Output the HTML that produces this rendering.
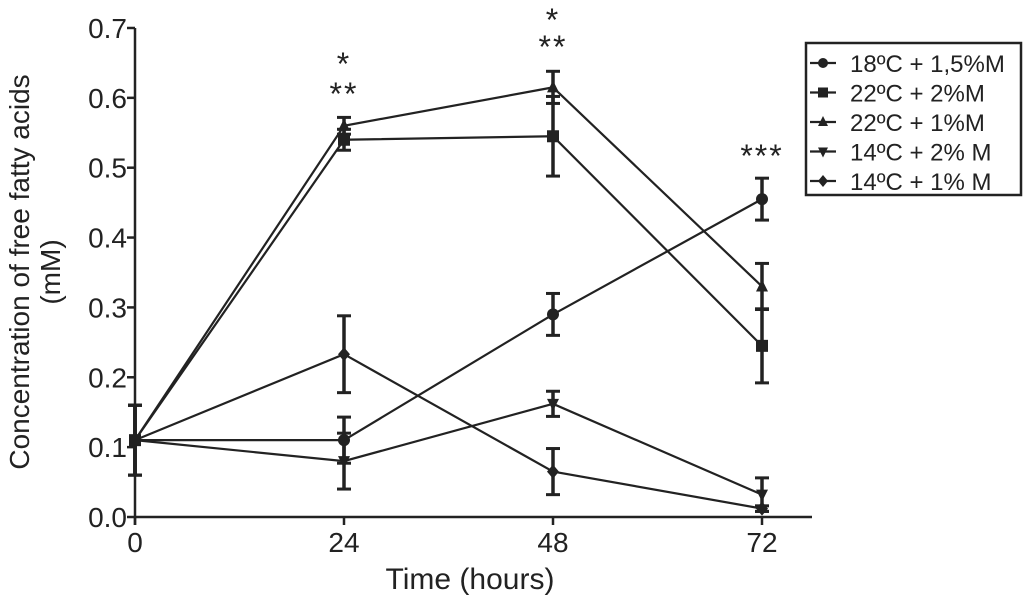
<!DOCTYPE html>
<html><head><meta charset="utf-8"><style>
body{margin:0;background:#fff;}
svg text{font-family:"Liberation Sans",Arial,sans-serif;fill:#222;}
</style></head><body>
<svg width="1024" height="599" viewBox="0 0 1024 599">
<g id="axes"></g><g id="plot"></g><g id="legend"></g>
</svg>
<script>
const times = [0, 24, 48, 72];
const seriesNames = ["18ºC + 1,5%M", "22ºC + 2%M", "22ºC + 1%M", "14ºC + 2% M", "14ºC + 1% M"];
const seriesMarkers = ["circle", "square", "triangle", "down", "diamond"];
const s18c15 = [0.11, 0.11, 0.29, 0.455];
const s22c2 = [0.11, 0.54, 0.545, 0.245];
const s22c1 = [0.11, 0.56, 0.615, 0.33];
const s14c2 = [0.11, 0.08, 0.162, 0.032];
const s14c1 = [0.11, 0.233, 0.065, 0.012];
const e18c15 = [0.05, 0.033, 0.03, 0.03];
const e22c2 = [0.05, 0.015, 0.057, 0.053];
const e22c1 = [0.05, 0.012, 0.023, 0.033];
const e14c2 = [0.05, 0.04, 0.018, 0.024];
const e14c1 = [0.05, 0.055, 0.033, 0.004];
const yTicks = ["0.0","0.1","0.2","0.3","0.4","0.5","0.6","0.7"];
const xTicks = ["0","24","48","72"];
const sigLabels = [["*","**"],["*","**"],["***"]];
const sigTimes = [24, 48, 72];

const NS="http://www.w3.org/2000/svg";
const X0=135, XW=209, Y0=517, YH=698.6;
const xs=t=>X0+t/24*XW;
const ys=v=>Y0-v*YH;
function mk(tag,attrs,parent){const e=document.createElementNS(NS,tag);for(const k in attrs)e.setAttribute(k,attrs[k]);parent.appendChild(e);return e;}
const axes=document.getElementById('axes'),plot=document.getElementById('plot'),leg=document.getElementById('legend');
let el;
el=mk('line',{x1:X0,y1:Y0,x2:812,y2:Y0,stroke:'#222','stroke-width':2.5},axes);


el=mk('line',{x1:X0,y1:Y0+8,x2:X0,y2:ys(0.7),stroke:'#222','stroke-width':2.5},axes);


yTicks.forEach((t,i)=>{const v=parseFloat(t);
 mk('line',{x1:X0-8,y1:ys(v),x2:X0,y2:ys(v),stroke:'#222','stroke-width':2.5},axes);
 el=mk('text',{x:X0-8,y:ys(v)+10,'font-size':28,'text-anchor':'end'},axes);el.textContent=t;
 
 
});
xTicks.forEach((t,i)=>{const x=xs(parseFloat(t));
 mk('line',{x1:x,y1:Y0,x2:x,y2:Y0+8,stroke:'#222','stroke-width':2.5},axes);
 el=mk('text',{x:x,y:Y0+35,'font-size':28,'text-anchor':'middle'},axes);el.textContent=t;
 
 
});
el=mk('text',{x:470,y:589,'font-size':30,'text-anchor':'middle'},axes);el.textContent='Time (hours)';


el=mk('text',{x:0,y:0,'font-size':28,'text-anchor':'middle',transform:'translate(29,272) rotate(-90)'},axes);el.textContent='Concentration of free fatty acids';


el=mk('text',{x:0,y:0,'font-size':28,'text-anchor':'middle',transform:'translate(60,272) rotate(-90)'},axes);el.textContent='(mM)';



function marker(type,x,y,p,s){
 s=s||6;
 if(type==='circle')return mk('circle',{cx:x,cy:y,r:s,fill:'#222'},p);
 if(type==='square')return mk('rect',{x:x-s,y:y-s,width:2*s,height:2*s,fill:'#222'},p);
 if(type==='triangle')return mk('polygon',{points:`${x},${y-s-1} ${x-s},${y+s-1} ${x+s},${y+s-1}`,fill:'#222'},p);
 if(type==='down')return mk('polygon',{points:`${x},${y+s+1} ${x-s},${y-s+1} ${x+s},${y-s+1}`,fill:'#222'},p);
 return mk('polygon',{points:`${x},${y-s-1} ${x+s},${y} ${x},${y+s+1} ${x-s},${y}`,fill:'#222'},p);
}
const allVals=[s18c15,s22c2,s22c1,s14c2,s14c1];
const allErr=[e18c15,e22c2,e22c1,e14c2,e14c1];
allVals.forEach((vals,si)=>{
 const g=mk('g',{},plot);
 
 
 el=mk('polyline',{points:vals.map((v,i)=>xs(times[i])+','+ys(v)).join(' '),fill:'none',stroke:'#222','stroke-width':2.2},g);
 
 
 vals.forEach((v,i)=>{const x=xs(times[i]),e=allErr[si][i];
  const hi=ys(v+e),lo=ys(Math.max(0,v-e));
  mk('line',{x1:x,y1:hi,x2:x,y2:lo,stroke:'#222','stroke-width':3.5},g);
  mk('line',{x1:x-7,y1:hi,x2:x+7,y2:hi,stroke:'#222','stroke-width':3},g);
  mk('line',{x1:x-7,y1:lo,x2:x+7,y2:lo,stroke:'#222','stroke-width':3},g);
  el=marker(seriesMarkers[si],x,ys(v),g);
  
  
 });
});
const sigTop=[[62,92],[18,45],[154]];
sigLabels.forEach((arr,i)=>{arr.forEach((s,j)=>{
 el=mk('text',{x:xs(sigTimes[i]),y:sigTop[i][j]+13,'font-size':32,'text-anchor':'middle','letter-spacing':2},plot);el.textContent=s;
 
 
});});
el=mk('rect',{x:806,y:43,width:215,height:152,fill:'#fff',stroke:'#222','stroke-width':2.5},leg);


seriesNames.forEach((n,i)=>{const y=63+i*29.5;
 const g=mk('g',{},leg);
 
 
 mk('line',{x1:810,y1:y,x2:836,y2:y,stroke:'#222','stroke-width':2.2},g);
 marker(seriesMarkers[i],823,y,g,5);
 const t=mk('text',{x:850,y:y+9,'font-size':24},g);t.textContent=n;
});
</script>
</body></html>
